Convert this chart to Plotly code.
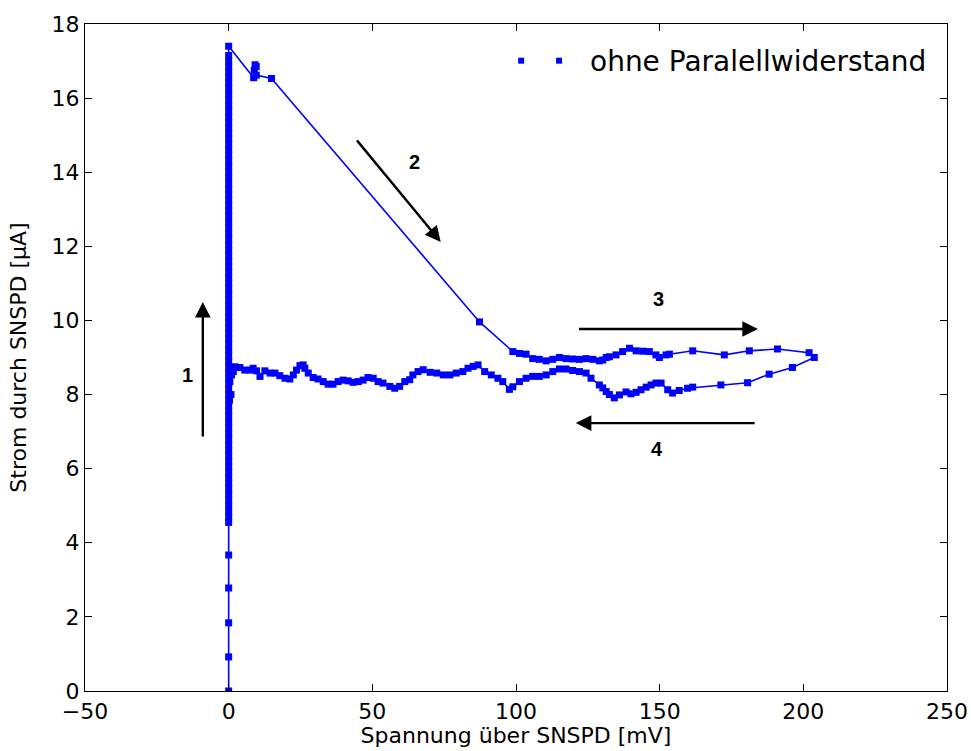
import plotly.graph_objects as go

# --- Messdaten: Strom durch den SNSPD über der Spannung ---

# 1: Hochfahren des Stroms im supraleitenden Zustand (U = 0)
sweep_up_voltage = [
    0.0, 0.0, 0.0, 0.0, 0.0, 0.0, 0.0, 0.0, 0.0, 0.0, 0.0, 0.0, 0.0, 0.0, 0.0, 0.0,
    0.0, 0.0, 0.0, 0.0, 0.0, 0.0, 0.0, 0.0, 0.0, 0.0, 0.0, 0.0, 0.0, 0.0, 0.0, 0.0,
    0.0, 0.0, 0.0, 0.0, 0.0, 0.0, 0.0, 0.0, 0.0, 0.0, 0.0, 0.0, 0.0, 0.0, 0.0, 0.0,
    0.0, 0.0, 0.0, 0.0, 0.0, 0.0, 0.0, 0.0, 0.0, 0.0, 0.0, 0.0, 0.0, 0.0, 0.0, 0.0,
    0.0, 0.0, 0.0, 0.0, 0.0, 0.0, 0.0, 0.0, 0.0, 0.0, 0.0, 0.0, 0.0, 0.0, 0.0, 0.0,
    0.0, 0.0, 0.0, 0.0, 0.0, 0.0, 0.0, 0.0, 0.0, 0.0, 0.0,
]
sweep_up_current = [
    0.0, 0.92, 1.84, 2.78, 3.67, 4.55,
    4.7, 4.85, 5.0, 5.15, 5.3, 5.45, 5.6, 5.75, 5.9, 6.05, 6.2, 6.35, 6.5, 6.65,
    6.8, 6.95, 7.1, 7.25, 7.4, 7.55, 7.7, 7.85, 8.0, 8.15, 8.3, 8.45, 8.6, 8.75,
    8.9, 9.05, 9.2, 9.35, 9.5, 9.65, 9.8, 9.95, 10.1, 10.25, 10.4, 10.55, 10.7,
    10.85, 11.0, 11.15, 11.3, 11.45, 11.6, 11.75, 11.9, 12.05, 12.2, 12.35, 12.5,
    12.65, 12.8, 12.95, 13.1, 13.25, 13.4, 13.55, 13.7, 13.85, 14.0, 14.15, 14.3,
    14.45, 14.6, 14.75, 14.9, 15.05, 15.2, 15.35, 15.5, 15.65, 15.8, 15.95, 16.1,
    16.25, 16.4, 16.55, 16.7, 16.85, 17.0, 17.15, 17.4,
]

# 2: Übergang in den normalleitenden Zustand
switch_voltage = [8.7, 8.9, 9.2, 9.6, 9.6, 14.9, 87.3]
switch_current = [16.55, 16.75, 16.9, 16.85, 16.62, 16.53, 9.96]

# 3: oberer Ast, Spannung steigt
upper_voltage = [
    98.9, 101.2, 103.5, 105.8, 108.1, 110.5, 112.8, 115.1, 117.4, 119.7, 122.1,
    124.4, 126.7, 129.0, 130.2, 131.4, 132.5, 134.8, 137.1, 139.5, 141.8, 144.1,
    146.4, 148.7, 149.9, 152.2, 153.4, 161.5, 172.5, 181.2, 191.0, 202.0, 203.8,
]
upper_current = [
    9.16, 9.11, 9.09, 8.97, 8.95, 8.91, 8.95, 9.0, 8.97, 8.96, 8.95,
    8.97, 8.95, 8.91, 8.93, 9.0, 9.02, 9.07, 9.16, 9.25, 9.18, 9.17,
    9.16, 9.07, 9.0, 9.07, 9.09, 9.18, 9.07, 9.18, 9.23, 9.13, 9.0,
]

# 4: unterer Ast, Spannung fällt zurück
lower_voltage = [
    196.2, 188.1, 180.6, 171.3, 161.5, 159.7, 156.8, 154.5, 152.8, 150.5, 148.7,
    147.0, 145.3, 143.5, 141.8, 140.0, 138.3, 136.0, 134.2, 132.5, 131.4, 130.2,
    129.0, 126.1, 124.4, 122.1, 119.7, 117.4, 115.1, 112.8, 110.5, 108.1, 105.8,
    103.5, 101.2, 98.9, 97.7, 95.4, 93.7, 91.4, 89.1, 86.8, 85.1, 83.3, 81.5,
    79.2, 77.0, 74.7, 72.4, 70.1, 67.7, 65.9, 64.1, 63.0, 61.3, 59.5, 57.8,
    56.1, 53.7, 52.0, 50.3, 48.5, 46.8, 45.1, 43.3, 41.6, 39.8, 38.1, 36.3,
    34.6, 32.9, 31.1, 29.4, 27.7, 26.5, 25.9, 24.8, 23.6, 22.5, 21.3, 19.6,
    17.8, 16.1, 14.4, 12.6, 10.9, 9.7, 8.5, 7.4, 5.6, 3.9, 2.2, 1.6, 1.0,
    0.4, 0.8, 0.3,
]
lower_current = [
    8.73, 8.55, 8.32, 8.26, 8.20, 8.17, 8.11, 8.04, 8.13, 8.31, 8.31,
    8.26, 8.20, 8.13, 8.06, 8.02, 8.07, 7.99, 7.91, 8.0, 8.08, 8.18,
    8.26, 8.44, 8.58, 8.62, 8.65, 8.69, 8.69, 8.62, 8.53, 8.49, 8.49,
    8.44, 8.35, 8.21, 8.14, 8.35, 8.44, 8.53, 8.62, 8.80, 8.76, 8.71, 8.62,
    8.58, 8.53, 8.53, 8.58, 8.60, 8.67, 8.62, 8.53, 8.40, 8.35, 8.22, 8.17,
    8.22, 8.31, 8.35, 8.44, 8.46, 8.39, 8.35, 8.33, 8.37, 8.39, 8.35, 8.28,
    8.28, 8.35, 8.42, 8.46, 8.58, 8.71, 8.80, 8.78, 8.66, 8.53, 8.42, 8.44,
    8.51, 8.58, 8.58, 8.64, 8.49, 8.64, 8.71, 8.66, 8.66, 8.73, 8.75, 8.62, 8.53,
    8.35, 8.0, 7.85,
]

series_name = "ohne Paralellwiderstand"
x_ticks = [-50, 0, 50, 100, 150, 200, 250]
y_ticks = [0, 2, 4, 6, 8, 10, 12, 14, 16, 18]

# Pfeile für die Durchlaufrichtung: (Nummer, Schaft-Ende, Spitze, Beschriftung)
arrow_specs = [
    ("1", (-9.0, 6.83), (-9.0, 10.5), (-14.5, 8.53)),
    ("2", (44.2, 14.9), (73.8, 12.12), (64.7, 14.27)),
    ("3", (121.4, 9.77), (184.2, 9.77), (149.5, 10.58)),
    ("4", (183.6, 7.23), (120.8, 7.23), (149.2, 6.53)),
]

voltage = sweep_up_voltage + switch_voltage + upper_voltage + lower_voltage
current = sweep_up_current + switch_current + upper_current + lower_current

BLUE = "#0000ff"
FONT = "DejaVu Sans, Verdana, sans-serif"

fig = go.Figure()
fig.add_trace(go.Scatter(
    x=voltage, y=current, mode="lines+markers", name=series_name,
    line=dict(color=BLUE, width=1.6),
    marker=dict(symbol="square", size=7, color=BLUE, line=dict(width=0)),
    showlegend=False,
))

# Legende im matplotlib-Stil: zwei Marker ohne Linie
fig.add_trace(go.Scatter(
    x=[0.506, 0.550], y=[0.945, 0.945], xaxis="x2", yaxis="y2",
    mode="markers", marker=dict(symbol="square", size=6, color=BLUE),
    showlegend=False, hoverinfo="skip",
))
fig.add_annotation(
    xref="paper", yref="paper", x=0.584, y=0.944, xanchor="left", yanchor="middle",
    text=series_name, showarrow=False, font=dict(family=FONT, size=28, color="black"),
)

for label, tail, tip, pos in arrow_specs:
    fig.add_annotation(
        x=tip[0], y=tip[1], ax=tail[0], ay=tail[1], xref="x", yref="y",
        axref="x", ayref="y", text="", showarrow=True,
        arrowhead=2, arrowsize=1.3, arrowwidth=2.4, arrowcolor="black", standoff=0,
    )
    fig.add_annotation(
        x=pos[0], y=pos[1], xref="x", yref="y", text="<b>%s</b>" % label,
        showarrow=False, font=dict(family="Liberation Sans, Arial, sans-serif", size=20,
                                   color="black"),
    )

axis_common = dict(
    showline=True, linecolor="black", linewidth=1.2, mirror="allticks",
    ticks="inside", ticklen=7, tickwidth=1, tickcolor="black",
    showgrid=False, zeroline=False, automargin=False,
    tickfont=dict(family=FONT, size=22, color="black"),
)

fig.update_layout(
    width=971, height=751,
    margin=dict(l=85, r=24, t=24, b=60),
    paper_bgcolor="white", plot_bgcolor="white",
    font=dict(family=FONT, size=22, color="black"),
    xaxis=dict(
        range=[-50, 250], tickmode="array", tickvals=x_ticks,
        title=dict(text="Spannung über SNSPD [mV]", standoff=4,
                   font=dict(family=FONT, size=22, color="black")),
        **axis_common,
    ),
    yaxis=dict(
        range=[0, 18], tickmode="array", tickvals=y_ticks,
        title=dict(text="Strom durch SNSPD [µA]", standoff=18,
                   font=dict(family=FONT, size=22, color="black")),
        **axis_common,
    ),
    xaxis2=dict(overlaying="x", range=[0, 1], visible=False, anchor="y2"),
    yaxis2=dict(overlaying="y", range=[0, 1], visible=False, anchor="x2"),
)

fig.write_html("out.html")
